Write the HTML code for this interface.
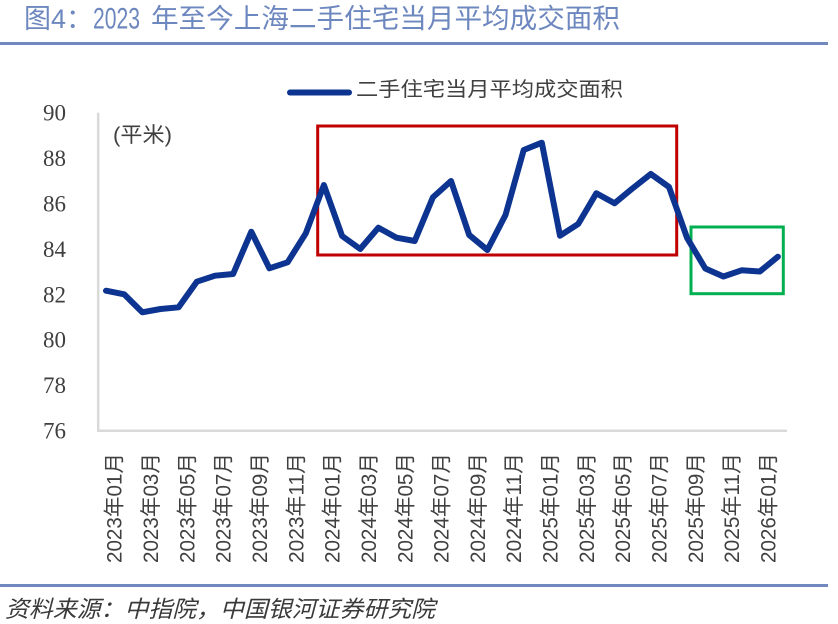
<!DOCTYPE html>
<html>
<head>
<meta charset="utf-8">
<style>
  html,body{margin:0;padding:0;background:#fff;}
  body{width:838px;height:624px;overflow:hidden;}
  svg{display:block;}
  .cjk{font-family:"Liberation Sans","Noto Sans CJK SC",sans-serif;}
  .num{font-family:"Liberation Serif","Noto Serif CJK SC",serif;}
</style>
</head>
<body>
<svg width="838" height="624" viewBox="0 0 838 624" xmlns="http://www.w3.org/2000/svg">
  <rect x="0" y="0" width="838" height="624" fill="#ffffff"/>

  <!-- Title -->
  <text class="cjk" x="24" y="28" font-size="27" fill="#6d87bf">图4：</text>
  <text class="cjk" x="93" y="28.5" font-size="30" fill="#6d87bf" textLength="47" lengthAdjust="spacingAndGlyphs">2023</text>
  <text class="cjk" x="151" y="28" font-size="27" fill="#6d87bf" textLength="469" lengthAdjust="spacingAndGlyphs">年至今上海二手住宅当月平均成交面积</text>
  <rect x="0" y="42" width="828" height="3" fill="#7289c0"/>

  <!-- Legend -->
  <line x1="290" y1="92.5" x2="349" y2="92.5" stroke="#0d3490" stroke-width="6" stroke-linecap="round"/>
  <text class="cjk" x="356" y="96" font-size="20" fill="#404040" textLength="267" lengthAdjust="spacingAndGlyphs">二手住宅当月平均成交面积</text>

  <!-- Axes -->
  <line x1="98.2" y1="112.7" x2="98.2" y2="431" stroke="#d9d9d9" stroke-width="2.5"/>
  <line x1="97" y1="430.7" x2="787" y2="430.7" stroke="#d9d9d9" stroke-width="2.5"/>

  <!-- Y labels -->
  <g class="num" font-size="23" fill="#3f3f3f" text-anchor="end">
    <text x="66" y="120.7">90</text>
    <text x="66" y="166.1">88</text>
    <text x="66" y="211.5">86</text>
    <text x="66" y="256.9">84</text>
    <text x="66" y="302.3">82</text>
    <text x="66" y="347.7">80</text>
    <text x="66" y="393.1">78</text>
    <text x="66" y="438.7">76</text>
  </g>

  <!-- Unit -->
  <text class="cjk" x="113" y="142" font-size="21" fill="#404040" textLength="59" lengthAdjust="spacingAndGlyphs">(平米)</text>

  <!-- Highlight boxes -->
  <rect x="317.7" y="126" width="359" height="129" fill="none" stroke="#c00000" stroke-width="3"/>
  <rect x="691" y="227" width="92.3" height="66.7" fill="none" stroke="#00b050" stroke-width="3"/>

  <!-- Series -->
  <polyline fill="none" stroke="#0d3490" stroke-width="6" stroke-linejoin="round" stroke-linecap="round"
    points="106,290.7 124.2,294.3 142.3,312.3 160.5,309 178.6,307.3 196.8,281.7 215,275.7 233.1,274 251.3,231.7 269.4,268.3 287.6,262.3 305.8,233.3 323.9,185 342.1,236 360.2,249 378.4,227.7 396.6,237.7 414.7,241 432.9,197.3 451,181 469.2,235 487.4,250 505.5,215 523.7,150 541.8,142.7 560,235.7 578.2,224 596.3,193.3 614.5,203.3 632.6,188.3 650.8,174 669,187 687.1,238 705.3,268.5 723.4,276.5 741.6,270.3 759.8,271.5 777.9,256.7"/>

  <!-- X labels -->
  <g class="cjk" font-size="21" fill="#404040">
    <text transform="translate(121.7,563) rotate(-90)" textLength="110" lengthAdjust="spacingAndGlyphs">2023年01月</text>
    <text transform="translate(158.0,563) rotate(-90)" textLength="110" lengthAdjust="spacingAndGlyphs">2023年03月</text>
    <text transform="translate(194.3,563) rotate(-90)" textLength="110" lengthAdjust="spacingAndGlyphs">2023年05月</text>
    <text transform="translate(230.7,563) rotate(-90)" textLength="110" lengthAdjust="spacingAndGlyphs">2023年07月</text>
    <text transform="translate(267.0,563) rotate(-90)" textLength="110" lengthAdjust="spacingAndGlyphs">2023年09月</text>
    <text transform="translate(303.3,563) rotate(-90)" textLength="110" lengthAdjust="spacingAndGlyphs">2023年11月</text>
    <text transform="translate(339.6,563) rotate(-90)" textLength="110" lengthAdjust="spacingAndGlyphs">2024年01月</text>
    <text transform="translate(375.9,563) rotate(-90)" textLength="110" lengthAdjust="spacingAndGlyphs">2024年03月</text>
    <text transform="translate(412.3,563) rotate(-90)" textLength="110" lengthAdjust="spacingAndGlyphs">2024年05月</text>
    <text transform="translate(448.6,563) rotate(-90)" textLength="110" lengthAdjust="spacingAndGlyphs">2024年07月</text>
    <text transform="translate(484.9,563) rotate(-90)" textLength="110" lengthAdjust="spacingAndGlyphs">2024年09月</text>
    <text transform="translate(521.2,563) rotate(-90)" textLength="110" lengthAdjust="spacingAndGlyphs">2024年11月</text>
    <text transform="translate(557.5,563) rotate(-90)" textLength="110" lengthAdjust="spacingAndGlyphs">2025年01月</text>
    <text transform="translate(593.9,563) rotate(-90)" textLength="110" lengthAdjust="spacingAndGlyphs">2025年03月</text>
    <text transform="translate(630.2,563) rotate(-90)" textLength="110" lengthAdjust="spacingAndGlyphs">2025年05月</text>
    <text transform="translate(666.5,563) rotate(-90)" textLength="110" lengthAdjust="spacingAndGlyphs">2025年07月</text>
    <text transform="translate(702.8,563) rotate(-90)" textLength="110" lengthAdjust="spacingAndGlyphs">2025年09月</text>
    <text transform="translate(739.1,563) rotate(-90)" textLength="110" lengthAdjust="spacingAndGlyphs">2025年11月</text>
    <text transform="translate(775.5,563) rotate(-90)" textLength="110" lengthAdjust="spacingAndGlyphs">2026年01月</text>
  </g>

  <!-- Footer -->
  <rect x="0" y="584" width="828" height="3" fill="#7289c0"/>
  <text class="cjk" x="5" y="617" font-size="23" font-style="italic" fill="#3a3a3a" textLength="430" lengthAdjust="spacingAndGlyphs">资料来源：中指院，中国银河证券研究院</text>
</svg>
</body>
</html>
